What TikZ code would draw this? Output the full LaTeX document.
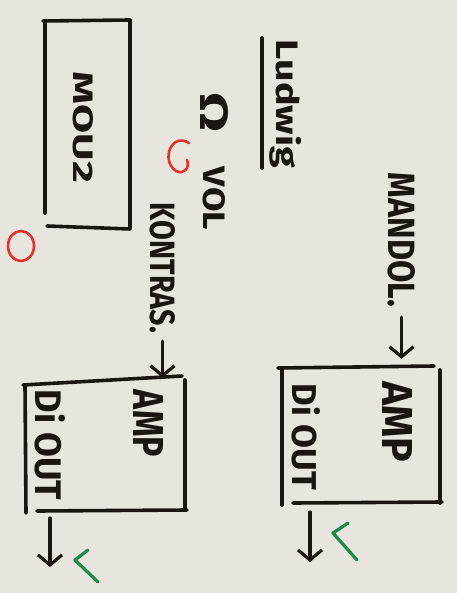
\documentclass[tikz,border=0pt]{standalone}
\usepackage{fontspec}
\setmainfont{Fira Sans}
\usepackage{graphicx}
\usetikzlibrary{arrows.meta}
\definecolor{paper}{HTML}{E8E5DE}
\definecolor{ink}{HTML}{1C1612}
\definecolor{redmark}{HTML}{E2342C}
\definecolor{greenmark}{HTML}{1F8A4C}
\newcommand{\hwtext}[3]{\resizebox{#1}{#2}{\bfseries #3}}
\newcommand{\hwtextt}[3]{\resizebox*{#1}{#2}{\bfseries #3}}
\begin{document}
\begin{tikzpicture}[x=1pt,y=1pt,
  ink/.style={draw=ink,line width=3.6pt,line cap=round,line join=round},
  lbl/.style={rotate=-90,inner sep=0pt,text=ink},
  boxn/.style={draw=none,rectangle,inner sep=0pt},
  arr/.style={ink,-{Straight Barb[length=10pt,width=24pt,line width=3.2pt]}},
  check/.style={draw=greenmark,line width=3.2pt,line cap=round,line join=round},
  redm/.style={draw=redmark,line width=2.6pt,line cap=round}]
\fill[paper] (0,0) rectangle (457,-593);
\useasboundingbox (0,0) rectangle (457,-593);

% boxes (named nodes, hand-drawn edges)
\node[boxn,minimum width=86pt,minimum height=208pt] (mou) at (87,-124) {};
\draw[ink] (43,-21) -- (130,-20);
\draw[ink] (130,-20) -- (130,-228);
\draw[ink] (45,-23) -- (45,-213);
\draw[ink] (47,-226) -- (130,-229);

\node[boxn,minimum width=159pt,minimum height=137pt] (amp1) at (360.5,-435.5) {};
\draw[ink] (278,-368) -- (434,-366);
\draw[ink] (440,-370) -- (440,-503);
\draw[ink] (282,-368) -- (282,-505);
\draw[ink] (293,-503) -- (442,-502);

\node[boxn,minimum width=160pt,minimum height=131pt] (amp2) at (105,-445.5) {};
\draw[ink] (23,-385) -- (182,-376);
\draw[ink] (185,-380) -- (185,-510);
\draw[ink] (25,-385) -- (26,-513);
\draw[ink] (37,-511) -- (187,-510);

% texts
\node[lbl] (moutxt) at (83,-127.5) {\hwtext{111pt}{20pt}{MOU2}};
\node[lbl] (ludwig) at (286,-104) {\hwtextt{128pt}{32pt}{Ludwig}};
\draw[ink] (262,-38) -- (262,-168);
\node[lbl] (omega) at (214,-113) {\hwtext{40pt}{28pt}{Ω}};
\node[lbl] (vol) at (214,-198.5) {\hwtext{63pt}{22pt}{VOL}};
\node[lbl] (kontras) at (162.5,-268) {\hwtext{130pt}{25pt}{KONTRAS.}};
\node[lbl] (mandol) at (401.5,-240) {\hwtext{134pt}{27pt}{MANDOL.}};
\node[lbl] (amp1t) at (397,-422) {\hwtext{81pt}{30pt}{AMP}};
\node[lbl] (di1) at (306,-437) {\hwtext{106pt}{28pt}{Di OUT}};
\node[lbl] (amp2t) at (148,-423.5) {\hwtext{67pt}{30pt}{AMP}};
\node[lbl] (di2) at (50,-445) {\hwtext{110pt}{30pt}{Di OUT}};

% arrows
\coordinate (out1) at (310,-562);
\coordinate (out2) at (50,-567);
\draw[arr,shorten <=10pt,shorten >=8pt] (mandol.east) -- (mandol.east |- amp1.north);
\draw[arr,shorten <=8pt,shorten >=2pt] (kontras.east) -- (kontras.east |- amp2.north);
\draw[arr,shorten <=8pt] (amp1.south -| out1) -- (out1);
\draw[arr,shorten <=7pt] (amp2.south -| out2) -- (out2);

% green checks
\draw[check] (348,-523) -- (333,-533) -- (357,-560);
\draw[check] (88,-550) -- (75,-560) -- (98,-582);

% red marks
\draw[redm] (189,-143) .. controls (172,-132) and (160,-160) .. (176,-171) .. controls (184,-175) and (190,-168) .. (187,-160);
\draw[redm] (21,-246) ellipse [x radius=13pt, y radius=15pt];
\end{tikzpicture}
\end{document}
